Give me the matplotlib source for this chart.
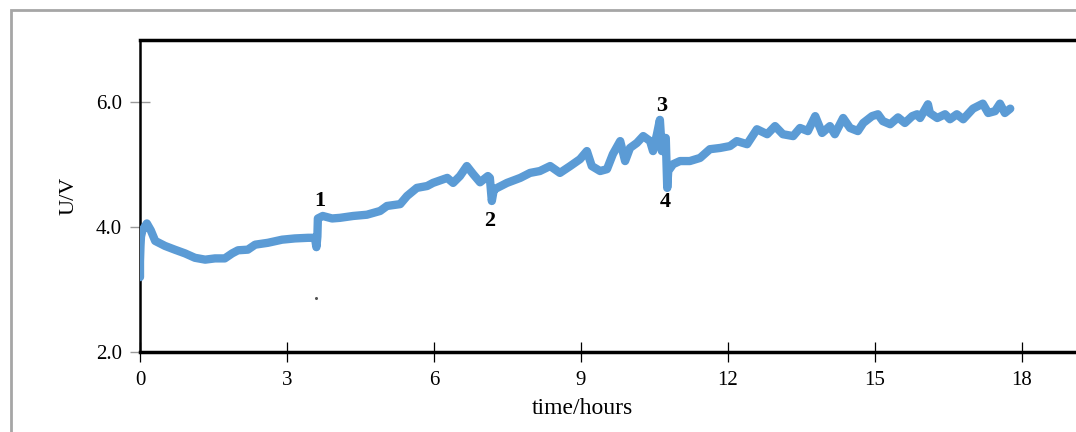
import matplotlib
matplotlib.use("Agg")
import matplotlib.pyplot as plt
from matplotlib.patches import Rectangle

# Measured cell voltage over time
time_h = [0.0, 0.0, 0.01, 0.02, 0.05, 0.14, 0.22, 0.31, 0.51, 0.71, 0.92, 1.12, 1.33, 1.53,
          1.73, 1.88, 2.0, 2.2, 2.35, 2.61, 2.9, 3.16, 3.43, 3.57, 3.6, 3.62,
          3.63, 3.73, 3.92, 4.08, 4.35, 4.63, 4.90, 5.04, 5.31, 5.45, 5.65, 5.86, 5.98,
          6.27, 6.39, 6.53, 6.67, 6.80, 6.94, 7.10, 7.14,
          7.18, 7.22, 7.29, 7.49, 7.76, 7.96, 8.16, 8.37, 8.57, 8.78, 8.98, 9.12, 9.22,
          9.39, 9.53, 9.65, 9.80, 9.90, 10.0, 10.14, 10.27, 10.41, 10.47, 10.55, 10.61,
          10.65, 10.69, 10.73,
          10.76, 10.78, 10.88, 11.02, 11.22, 11.43, 11.63, 11.84, 12.04, 12.18, 12.39,
          12.59, 12.80, 12.96, 13.12, 13.33, 13.47, 13.63, 13.78, 13.92, 14.08, 14.18,
          14.35, 14.49, 14.65, 14.76, 14.94, 15.06, 15.16, 15.31, 15.47, 15.61, 15.76,
          15.86, 15.92, 16.08, 16.12, 16.27, 16.43, 16.53, 16.67, 16.80, 17.0, 17.20,
          17.31, 17.45, 17.55, 17.65, 17.76]
voltage = [3.20, 3.45, 3.70, 3.85, 3.95, 4.06, 3.95, 3.78, 3.70, 3.64, 3.58, 3.51, 3.48, 3.50,
           3.50, 3.58, 3.63, 3.64, 3.72, 3.75, 3.80, 3.82, 3.83, 3.83, 3.68, 3.85,
           4.14, 4.18, 4.14, 4.15, 4.18, 4.20, 4.26, 4.34, 4.37, 4.50, 4.63, 4.66, 4.71,
           4.79, 4.71, 4.82, 4.98, 4.85, 4.72, 4.82, 4.79,
           4.42, 4.60, 4.63, 4.71, 4.79, 4.87, 4.90, 4.98, 4.87, 4.98, 5.09, 5.22, 4.98,
           4.90, 4.93, 5.17, 5.38, 5.06, 5.27, 5.35, 5.46, 5.38, 5.22, 5.49, 5.72,
           5.22, 5.43, 5.43,
           4.63, 4.90, 5.01, 5.06, 5.06, 5.11, 5.25, 5.27, 5.30, 5.38, 5.33,
           5.57, 5.49, 5.62, 5.49, 5.46, 5.59, 5.54, 5.78, 5.51, 5.62, 5.49,
           5.75, 5.59, 5.54, 5.67, 5.78, 5.81, 5.70, 5.65, 5.76, 5.67, 5.78,
           5.81, 5.75, 5.97, 5.83, 5.75, 5.81, 5.73, 5.81, 5.73, 5.90, 5.98,
           5.83, 5.86, 5.98, 5.83, 5.90]

# Lone stray reading
stray_t = [3.6]
stray_v = [2.86]

# Event markers
event_labels = ["1", "2", "3", "4"]
event_t = [3.67, 7.14, 10.65, 10.71]
event_v = [4.42, 4.10, 5.95, 4.41]

x_ticks = [0, 3, 6, 9, 12, 15, 18]
y_ticks = [2.0, 4.0, 6.0]

W, H = 1076, 432
fig = plt.figure(figsize=(W / 100, H / 100), dpi=100)
plt.rcParams["font.family"] = ["Liberation Serif", "DejaVu Serif"]

# Outer gray frame
fig.patches.append(Rectangle((11 / W, -0.1), 1.2, (H - 10) / H + 0.1,
                             transform=fig.transFigure, fill=False,
                             edgecolor="#a6a6a6", linewidth=2))

ax = fig.add_axes([140 / W, 80 / H, 980 / W, 312 / H])
ax.set_xlim(0, 20)
ax.set_ylim(2, 7)

blue = "#5b9bd5"
ax.plot(time_h, voltage, color=blue, lw=6, solid_joinstyle="round",
        solid_capstyle="round", zorder=3)
ax.plot(stray_t, stray_v, "o", color="#555555", ms=1.2, zorder=3)

for lab, tx, vy in zip(event_labels, event_t, event_v):
    ax.text(tx, vy, lab, ha="center", va="center", fontsize=16,
            fontweight="bold", color="black")

for side in ["top", "left", "bottom"]:
    ax.spines[side].set_color("black")
ax.spines["top"].set_linewidth(2.5)
ax.spines["bottom"].set_linewidth(2.5)
ax.spines["left"].set_linewidth(1.8)
ax.spines["right"].set_visible(False)

ax.set_xticks(x_ticks)
ax.set_xticklabels([str(v) for v in x_ticks])
ax.set_yticks(y_ticks)
ax.set_yticklabels([f"{v:.1f}" for v in y_ticks])
ax.tick_params(axis="x", direction="inout", length=14, width=0.9, color="black",
               labelsize=15, pad=7)
ax.tick_params(axis="y", direction="inout", length=14, width=1.0, color="#999999",
               labelsize=15, pad=6)

ax.set_xlabel("time/hours", fontsize=17)
ax.xaxis.set_label_coords((582 - 140) / 980, -46 / 312, transform=ax.transAxes)
ax.set_ylabel("U/V", fontsize=16)
ax.yaxis.set_label_coords(-62 / 980, 0.5, transform=ax.transAxes)

fig.savefig("out.png", dpi=100)
